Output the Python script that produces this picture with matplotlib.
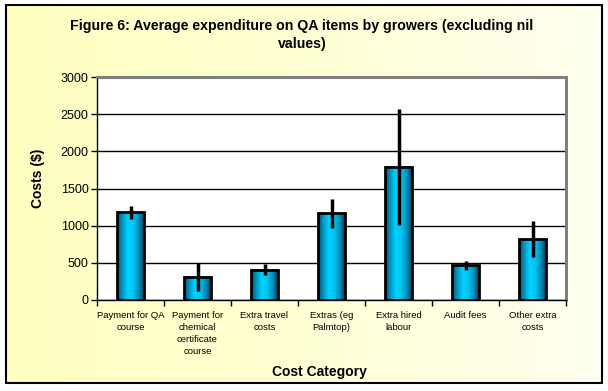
import matplotlib

matplotlib.use('Agg')

import matplotlib.pyplot as plt
import numpy as np
from matplotlib.colors import LinearSegmentedColormap
from matplotlib.patches import Rectangle

plt.rcParams.update({
    'font.family': ['Liberation Sans', 'DejaVu Sans'],
    'font.size': 8,
})

categories = ['Payment for QA\ncourse', 'Payment for\nchemical\ncertificate\ncourse',
              'Extra travel\ncosts', 'Extras (eg\nPalmtop)', 'Extra hired\nlabour',
              'Audit fees', 'Other extra\ncosts']
costs  = [1180, 310, 405, 1165, 1790, 465, 820]
errors = [90, 185, 75, 190, 780, 60, 240]
yticks = [0, 500, 1000, 1500, 2000, 2500, 3000]

W, H = 608, 391
fig = plt.figure(figsize=(W / 100, H / 100), dpi=100)

# background panel with yellow -> pale gradient and black frame
bg = fig.add_axes([0, 0, 1, 1], zorder=0)
bg.axis('off')
bg_cmap = LinearSegmentedColormap.from_list('bg', ['#ffffc0', '#ffffd4', '#fffff0'])
bg.imshow(np.linspace(0, 1, 256)[None, :], cmap=bg_cmap, aspect='auto',
          extent=[6, 602, 383, 5], zorder=0)
bg.add_patch(Rectangle((6, 5), 596, 378, fill=False, edgecolor='black', linewidth=1.5, zorder=2))
bg.set_xlim(0, W)
bg.set_ylim(H, 0)

ax = fig.add_axes([97 / W, (H - 300) / H, 469 / W, 223 / H], zorder=1)
ax.set_facecolor('white')

x = np.arange(len(categories))
bar_cmap = LinearSegmentedColormap.from_list(
    'cyl', [(0, '#004e6c'), (0.15, '#0088b0'), (0.4, '#00d2ff'),
            (0.6, '#00c6f2'), (0.85, '#0084ac'), (1, '#00405c')])
grad = np.linspace(0, 1, 64)[None, :]
bars = ax.bar(x, costs, width=0.4, facecolor='none', edgecolor='black',
              linewidth=2, zorder=4)
for b in bars:
    ax.imshow(grad, cmap=bar_cmap, aspect='auto', zorder=3,
              extent=[b.get_x(), b.get_x() + b.get_width(), 0, b.get_height()])

ax.errorbar(x, costs, yerr=errors, fmt='none', ecolor='black', elinewidth=2.5,
            capsize=0, zorder=5)

ax.set_xlim(-0.5, len(categories) - 0.5)
ax.set_ylim(0, 3000)
ax.set_yticks(yticks)
ax.tick_params(axis='y', labelsize=9, length=4, width=1, color='black', pad=2)
ax.yaxis.grid(True, color='black', linewidth=1)
ax.set_axisbelow(True)

ax.set_xticks(x)
ax.set_xticklabels(categories, fontsize=6.8, linespacing=1.4, va='top')
ax.set_xticks(np.arange(-0.5, len(categories)), minor=True)
ax.tick_params(axis='x', which='major', length=0, pad=8)
ax.tick_params(axis='x', which='minor', length=4, width=1, color='black')

for s in ['top', 'right']:
    ax.spines[s].set_color('#808080')
    ax.spines[s].set_linewidth(2.2)
for s in ['left', 'bottom']:
    ax.spines[s].set_color('black')
    ax.spines[s].set_linewidth(1)

fig.text(302 / W, 1 - 35 / H,
         'Figure 6: Average expenditure on QA items by growers (excluding nil\nvalues)',
         ha='center', va='center', fontsize=10.2, fontweight='bold', linespacing=1.45)
fig.text(38 / W, 1 - 178 / H, 'Costs ($)', rotation=90, ha='center', va='center',
         fontsize=10, fontweight='bold')
fig.text(319 / W, 1 - 372 / H, 'Cost Category', ha='center', va='center',
         fontsize=10, fontweight='bold')

fig.savefig('out.png', dpi=100)
